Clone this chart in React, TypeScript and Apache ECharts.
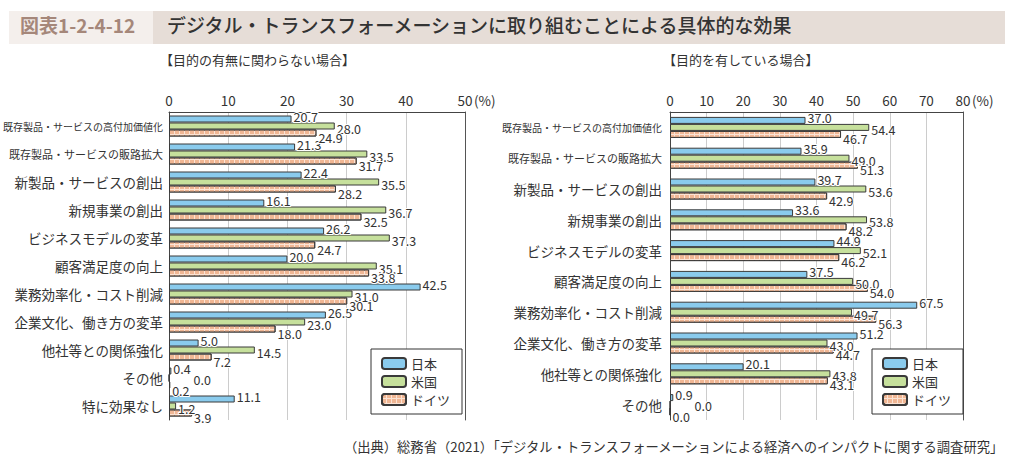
import React, { useEffect, useRef } from 'react';
import * as echarts from 'echarts';

const seriesNames = ['日本', '米国', 'ドイツ'];

const categoriesLeft = [
  '既存製品・サービスの高付加価値化',
  '既存製品・サービスの販路拡大',
  '新製品・サービスの創出',
  '新規事業の創出',
  'ビジネスモデルの変革',
  '顧客満足度の向上',
  '業務効率化・コスト削減',
  '企業文化、働き方の変革',
  '他社等との関係強化',
  'その他',
  '特に効果なし',
];
const japanLeft = [20.7, 21.3, 22.4, 16.1, 26.2, 20.0, 42.5, 26.5, 5.0, 0.4, 11.1];
const usLeft = [28.0, 33.5, 35.5, 36.7, 37.3, 35.1, 31.0, 23.0, 14.5, 0.0, 1.2];
const germanyLeft = [24.9, 31.7, 28.2, 32.5, 24.7, 33.8, 30.1, 18.0, 7.2, 0.2, 3.9];

const categoriesRight = [
  '既存製品・サービスの高付加価値化',
  '既存製品・サービスの販路拡大',
  '新製品・サービスの創出',
  '新規事業の創出',
  'ビジネスモデルの変革',
  '顧客満足度の向上',
  '業務効率化・コスト削減',
  '企業文化、働き方の変革',
  '他社等との関係強化',
  'その他',
];
const japanRight = [37.0, 35.9, 39.7, 33.6, 44.9, 37.5, 67.5, 51.2, 20.1, 0.9];
const usRight = [54.4, 49.0, 53.6, 53.8, 52.1, 50.0, 49.7, 43.0, 43.8, 0.0];
const germanyRight = [46.7, 51.3, 42.9, 48.2, 46.2, 54.0, 56.3, 44.7, 43.1, 0.0];

const leftMax = 50;
const rightMax = 80;
const tickInterval = 10;

const FONT = '"Noto Sans CJK JP", "Noto Sans", sans-serif';
const TXT = '#333333';

export default function App() {
  const ref = useRef<HTMLDivElement>(null);

  useEffect(() => {
    document.body.style.margin = '0';
    const chart = echarts.init(ref.current!, null, { renderer: 'svg' });

    const barStyles = [
      { color: '#8acbed', borderColor: '#3a3a3a', borderWidth: 1 },
      { color: '#c6e09c', borderColor: '#3a3a3a', borderWidth: 1 },
      {
        color: '#fbe3d4',
        borderColor: '#3a3a3a',
        borderWidth: 1,
        decal: {
          symbol: 'rect',
          symbolSize: 1,
          color: '#f0b795',
          dashArrayX: [4, 1],
          dashArrayY: [4, 1],
          rotation: 0,
        },
      },
    ];
    const labelOffsets = [[0, -3], [0, 2], [0, 4]];
    const smallValueOffsets = [[0, -3], [22, 1], [0, 5]];

    const catLabel = (margin: number, longA: number, longB: number) => ({
      fontFamily: FONT,
      fontSize: 13.5,
      color: TXT,
      margin,
      formatter: (v: string) => {
        if (v.length >= 16) return `{a|${v}}`;
        if (v.length >= 14) return `{b|${v}}`;
        return v;
      },
      rich: {
        a: { fontFamily: FONT, fontSize: longA, color: TXT },
        b: { fontFamily: FONT, fontSize: longB, color: TXT },
      },
    });

    const makeSeries = (data: number[][], idx: number) =>
      data.map((d, i) => ({
        name: seriesNames[i],
        type: 'bar',
        xAxisIndex: idx,
        yAxisIndex: idx * 2,
        data: d.map((v) =>
          v < 1 ? { value: v, label: { offset: smallValueOffsets[i] } } : v
        ),
        barWidth: 7,
        barGap: '0%',
        itemStyle: barStyles[i],
        label: {
          show: true,
          position: 'right',
          distance: 2,
          offset: labelOffsets[i],
          fontFamily: FONT,
          fontSize: 12.5,
          color: TXT,
          textBorderColor: '#ffffff',
          textBorderWidth: 2,
          formatter: (p: any) => Number(p.value).toFixed(1),
        },
      }));

    const xAxisCommon = (gridIndex: number, max: number) => ({
      type: 'value',
      gridIndex,
      position: 'top',
      min: 0,
      max,
      interval: tickInterval,
      axisLine: { show: true, lineStyle: { color: '#444', width: 1 } },
      axisTick: { show: false },
      axisLabel: { fontFamily: FONT, fontSize: 13.5, color: TXT, margin: 5 },
      splitLine: { show: true, lineStyle: { color: '#cccccc', width: 1 } },
    });

    const yAxes = (gridIndex: number, cats: string[], margin: number, a: number, b: number) => [
      {
        type: 'category',
        gridIndex,
        data: cats,
        inverse: true,
        axisLine: { show: true, lineStyle: { color: '#444', width: 1 } },
        axisTick: { show: false },
        axisLabel: catLabel(margin, a, b),
      },
      {
        type: 'category',
        gridIndex,
        data: cats,
        inverse: true,
        position: 'right',
        axisLine: { show: true, lineStyle: { color: '#555', width: 1 } },
        axisTick: { show: false },
        axisLabel: { show: false },
      },
    ];

    const legendCommon = (left: number) => ({
      left,
      top: 349,
      orient: 'vertical',
      data: seriesNames,
      padding: [8, 12, 8, 10],
      itemWidth: 24,
      itemHeight: 11,
      itemGap: 5,
      borderColor: '#333',
      borderWidth: 1,
      backgroundColor: '#ffffff',
      selectedMode: false,
      textStyle: { fontFamily: FONT, fontSize: 13, color: TXT },
    });

    const option: any = {
      animation: false,
      backgroundColor: '#ffffff',
      textStyle: { fontFamily: FONT },
      grid: [
        { left: 169, right: 1015 - 465, top: 112, bottom: 470 - 420, containLabel: false },
        { left: 670, right: 1015 - 963, top: 112, bottom: 470 - 420, containLabel: false },
      ],
      xAxis: [xAxisCommon(0, leftMax), xAxisCommon(1, rightMax)],
      yAxis: [...yAxes(0, categoriesLeft, 6, 10, 11), ...yAxes(1, categoriesRight, 8, 10, 11)],
      legend: [legendCommon(371), legendCommon(872)],
      series: [
        ...makeSeries([japanLeft, usLeft, germanyLeft], 0),
        ...makeSeries([japanRight, usRight, germanyRight], 1),
      ],
      graphic: [
        { type: 'rect', left: 9, top: 11, shape: { width: 996, height: 33 }, style: { fill: '#e6ddd7' }, silent: true },
        { type: 'rect', left: 9, top: 11, shape: { width: 144, height: 33 }, style: { fill: '#f4efec' }, silent: true },
        {
          type: 'text', left: 20, top: 15,
          style: { text: '図表1-2-4-12', fontFamily: FONT, fontSize: 19, fontWeight: 'bold', fill: '#a5877a' },
        },
        {
          type: 'text', left: 167, top: 15,
          style: {
            text: 'デジタル・トランスフォーメーションに取り組むことによる具体的な効果',
            fontFamily: FONT, fontSize: 19, fontWeight: 500, fill: '#333333',
          },
        },
        {
          type: 'text', left: 160, top: 53,
          style: { text: '【目的の有無に関わらない場合】', fontFamily: FONT, fontSize: 13, fill: TXT },
        },
        {
          type: 'text', left: 663, top: 53,
          style: { text: '【目的を有している場合】', fontFamily: FONT, fontSize: 13, fill: TXT },
        },
        {
          type: 'text', left: 474, top: 93,
          style: { text: '(%)', fontFamily: FONT, fontSize: 13.5, fill: TXT },
        },
        {
          type: 'text', left: 972, top: 93,
          style: { text: '(%)', fontFamily: FONT, fontSize: 13.5, fill: TXT },
        },
        {
          type: 'text', right: 10, top: 440,
          style: {
            text: '（出典）総務省（2021）「デジタル・トランスフォーメーションによる経済へのインパクトに関する調査研究」',
            fontFamily: FONT, fontSize: 13.3, fill: TXT,
          },
        },
      ],
    };

    chart.setOption(option);
    return () => chart.dispose();
  }, []);

  return <div ref={ref} style={{ width: 1015, height: 470 }} />;
}
